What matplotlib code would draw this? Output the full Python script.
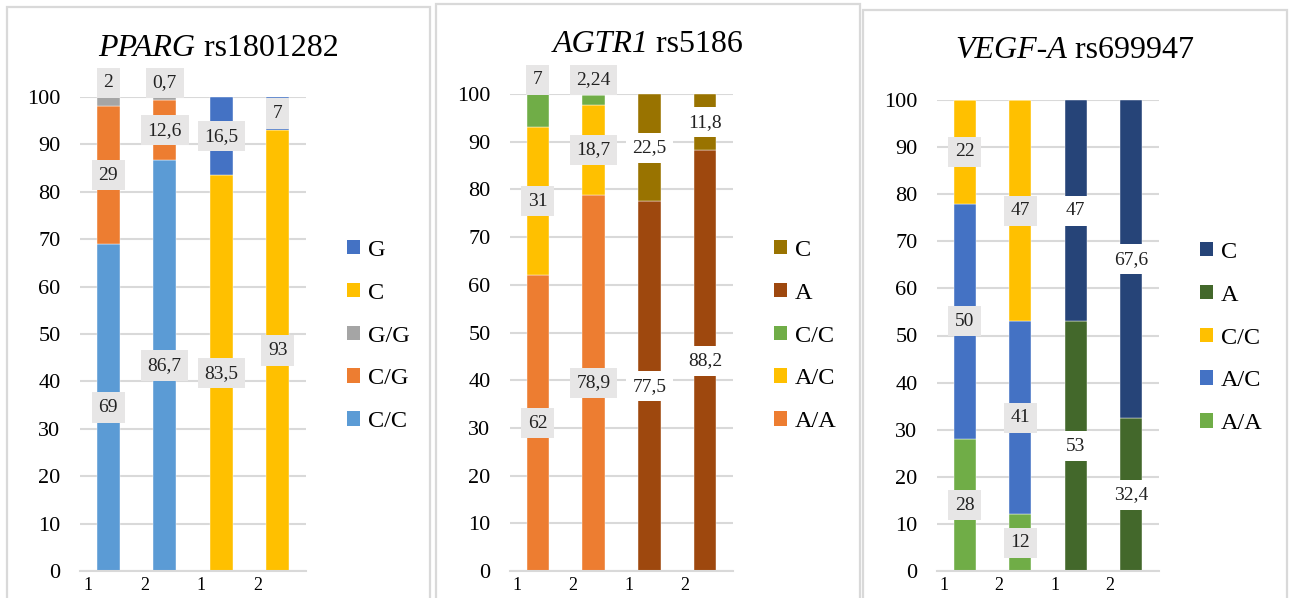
import matplotlib
matplotlib.use('Agg')
import matplotlib.pyplot as plt
from matplotlib.patches import Rectangle, Patch
from matplotlib.offsetbox import TextArea, HPacker, AnnotationBbox

plt.rcParams['font.family'] = ['Liberation Serif', 'DejaVu Serif']

# ---------------- data ----------------
groups = ['1', '2', '1', '2']

pparg_gene, pparg_snp = 'PPARG', 'rs1801282'
pparg_series = ['C/C', 'C/G', 'G/G', 'C', 'G']
pparg_values = [
    [69, 86.7, 0, 0],
    [29, 12.6, 0, 0],
    [2, 0.7, 0, 0],
    [0, 0, 83.5, 93],
    [0, 0, 16.5, 7],
]
pparg_colors = ['#5b9bd5', '#ed7d31', '#a5a5a5', '#ffc000', '#4472c4']

agtr1_gene, agtr1_snp = 'AGTR1', 'rs5186'
agtr1_series = ['A/A', 'A/C', 'C/C', 'A', 'C']
agtr1_values = [
    [62, 78.9, 0, 0],
    [31, 18.7, 0, 0],
    [7, 2.24, 0, 0],
    [0, 0, 77.5, 88.2],
    [0, 0, 22.5, 11.8],
]
agtr1_colors = ['#ed7d31', '#ffc000', '#70ad47', '#9e480e', '#997300']

vegf_gene, vegf_snp = 'VEGF-A', 'rs699947'
vegf_series = ['A/A', 'A/C', 'C/C', 'A', 'C']
vegf_values = [
    [28, 12, 0, 0],
    [50, 41, 0, 0],
    [22, 47, 0, 0],
    [0, 0, 53, 32.4],
    [0, 0, 47, 67.6],
]
vegf_colors = ['#70ad47', '#4472c4', '#ffc000', '#43682b', '#264478']

# ---------------- layout ----------------
W, H = 1289, 598
fig = plt.figure(figsize=(W / 100, H / 100), dpi=100)
fig.patch.set_facecolor('white')

panels = [
    dict(gene=pparg_gene, snp=pparg_snp, series=pparg_series, values=pparg_values,
         colors=pparg_colors, ax=(80, 306, 97, 571), frame=(7, 430, 7),
         title_y=48, legend_x=347, legend_y=336, allele_box='#e7e6e6', xlab_off=-0.36),
    dict(gene=agtr1_gene, snp=agtr1_snp, series=agtr1_series, values=agtr1_values,
         colors=agtr1_colors, ax=(510, 733, 94, 571), frame=(436, 860, 4),
         title_y=45, legend_x=774, legend_y=336, allele_box='white', xlab_off=-0.37),
    dict(gene=vegf_gene, snp=vegf_snp, series=vegf_series, values=vegf_values,
         colors=vegf_colors, ax=(937, 1159, 100, 571), frame=(863, 1287, 10),
         title_y=50, legend_x=1200, legend_y=338, allele_box='white', xlab_off=-0.38),
]

grid_col = '#d9d9d9'
label_fs = 14
bar_w = 0.4


def fmt(v):
    if float(v).is_integer():
        return str(int(v))
    return ('%g' % v).replace('.', ',')


for p in panels:
    l, r, t, b = p['ax']
    ax = fig.add_axes([l / W, (H - b) / H, (r - l) / W, (b - t) / H])
    # frame around panel
    fl, fr, ft = p['frame']
    fig.add_artist(Rectangle((fl / W, -0.05), (fr - fl) / W, (H - ft) / H + 0.05,
                             transform=fig.transFigure, fill=False,
                             edgecolor=grid_col, linewidth=1.6, zorder=0))
    x = list(range(len(groups)))
    bottoms = [0] * len(groups)
    handles = []
    for si, (name, vals, col) in enumerate(zip(p['series'], p['values'], p['colors'])):
        ax.bar(x, vals, bottom=bottoms, width=bar_w, color=col, zorder=2,
               edgecolor='white', linewidth=0.3)
        handles.append(Patch(facecolor=col, label=name))
        for xi, (v, b0) in enumerate(zip(vals, bottoms)):
            if v == 0:
                continue
            if xi < 2 and v < 8:
                ypos = 103
            else:
                ypos = b0 + v / 2
            box = '#e7e6e6' if xi < 2 else p['allele_box']
            ax.text(xi, ypos, fmt(v), ha='center', va='center',
                    fontsize=label_fs, color='#222222', zorder=5, clip_on=False,
                    bbox=dict(boxstyle='square,pad=0.34', facecolor=box, edgecolor='none'))
        bottoms = [bb + vv for bb, vv in zip(bottoms, vals)]

    ax.set_xlim(-0.5, len(groups) - 0.5)
    ax.set_ylim(0, 100)
    ax.set_yticks(range(0, 101, 10))
    ax.tick_params(axis='y', length=0, pad=14, labelsize=16)
    ax.set_xticks([])
    for gi, g in enumerate(groups):
        ax.text(gi + p['xlab_off'], -3.0, g, ha='center', va='center', fontsize=13,
                transform=ax.transData, clip_on=False)
    ax.yaxis.grid(True, color=grid_col, linewidth=1.5, zorder=0)
    ax.set_axisbelow(True)
    for s in ['left', 'right', 'top']:
        ax.spines[s].set_visible(False)
    ax.spines['bottom'].set_color(grid_col)
    ax.spines['bottom'].set_linewidth(1.5)
    ax.patch.set_alpha(0)

    # title: italic gene + upright SNP id
    ta1 = TextArea(p['gene'], textprops=dict(fontsize=23, style='italic', color='black'))
    ta2 = TextArea(' ' + p['snp'], textprops=dict(fontsize=23, color='black'))
    pack = HPacker(children=[ta1, ta2], pad=0, sep=0, align='baseline')
    ab = AnnotationBbox(pack, (((fl + fr) / 2) / W, (H - p['title_y']) / H),
                        xycoords='figure fraction', box_alignment=(0.5, 0.5),
                        frameon=False)
    fig.add_artist(ab)

    ax.legend(handles[::-1], [h.get_label() for h in handles[::-1]],
              loc='center left', bbox_to_anchor=(p['legend_x'] / W, (H - p['legend_y']) / H),
              bbox_transform=fig.transFigure, frameon=False, fontsize=17.5,
              handlelength=0.55, handleheight=0.55, handletextpad=0.3,
              labelspacing=0.9, borderpad=0, borderaxespad=0)

fig.savefig('out.png', dpi=100, facecolor='white')
